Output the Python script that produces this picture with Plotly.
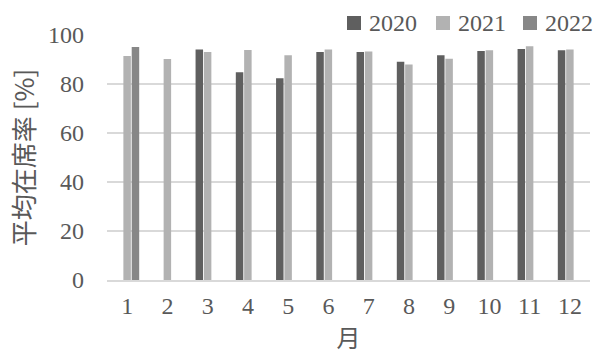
import plotly.graph_objects as go

months = [str(m) for m in range(1, 13)]
rate_2020 = [None, None, 94.1, 84.8, 82.3, 93.1, 93.1, 89.1, 91.7, 93.5, 94.3, 93.8]
rate_2021 = [91.4, 90.2, 93.1, 93.9, 91.7, 94.1, 93.3, 88.0, 90.3, 93.8, 95.4, 94.1]
rate_2022 = [95.1, None, None, None, None, None, None, None, None, None, None, None]

series = [
    ("2020", rate_2020, "#5f5f5f"),
    ("2021", rate_2021, "#b2b2b2"),
    ("2022", rate_2022, "#878787"),
]

FONT = "Liberation Serif, serif"
CJK_FONT = "Noto Sans CJK JP"
TEXT = "#595959"

# plot area in pixels, used to place the hand-drawn legend
L, R, T, B = 107, 5, 35, 74
W, H = 595, 354
PW, PH = W - L - R, H - T - B

fig = go.Figure()
for name, vals, color in series:
    fig.add_trace(go.Bar(
        x=months, y=vals, name=name, showlegend=False,
        marker=dict(color=color, line=dict(width=0)),
    ))

# legend: square swatch followed by the year, right-aligned above the plot
legend_x = [347, 436, 523]
for (name, _, color), px in zip(series, legend_x):
    x0 = (px - L) / PW
    x1 = (px + 14 - L) / PW
    y0 = 1 + (T - 30) / PH
    y1 = 1 + (T - 16) / PH
    fig.add_shape(type="rect", xref="paper", yref="paper",
                  x0=x0, x1=x1, y0=y0, y1=y1,
                  fillcolor=color, line=dict(width=0))
    fig.add_annotation(xref="paper", yref="paper",
                       x=(px + 20 - L) / PW, y=1 + (T - 23) / PH,
                       xanchor="left", yanchor="middle", showarrow=False,
                       text=name, font=dict(family=FONT, size=24, color=TEXT))

fig.update_layout(
    width=W, height=H,
    margin=dict(l=L, r=R, t=T, b=B, autoexpand=False),
    paper_bgcolor="white", plot_bgcolor="white",
    barmode="group", bargap=0.38, bargroupgap=0.1,
    font=dict(family=FONT, size=24, color=TEXT),
    xaxis=dict(
        showgrid=False, showline=True, linecolor="#d9d9d9", linewidth=2,
        ticks="", ticklabelstandoff=3,
        tickfont=dict(family=FONT, size=24, color=TEXT),
        title=dict(text="月", standoff=14, font=dict(family=CJK_FONT, size=24, color=TEXT)),
    ),
    yaxis=dict(
        range=[0, 100], tickvals=[0, 20, 40, 60, 80, 100],
        showgrid=True, gridcolor="#d9d9d9", gridwidth=2,
        zeroline=False, showline=False, ticks="", ticklabelstandoff=22,
        tickfont=dict(family=FONT, size=24, color=TEXT),
        title=dict(text="平均在席率 [%]", standoff=5,
                   font=dict(family=CJK_FONT, size=26, color=TEXT)),
    ),
)

fig.write_html("out.html")
